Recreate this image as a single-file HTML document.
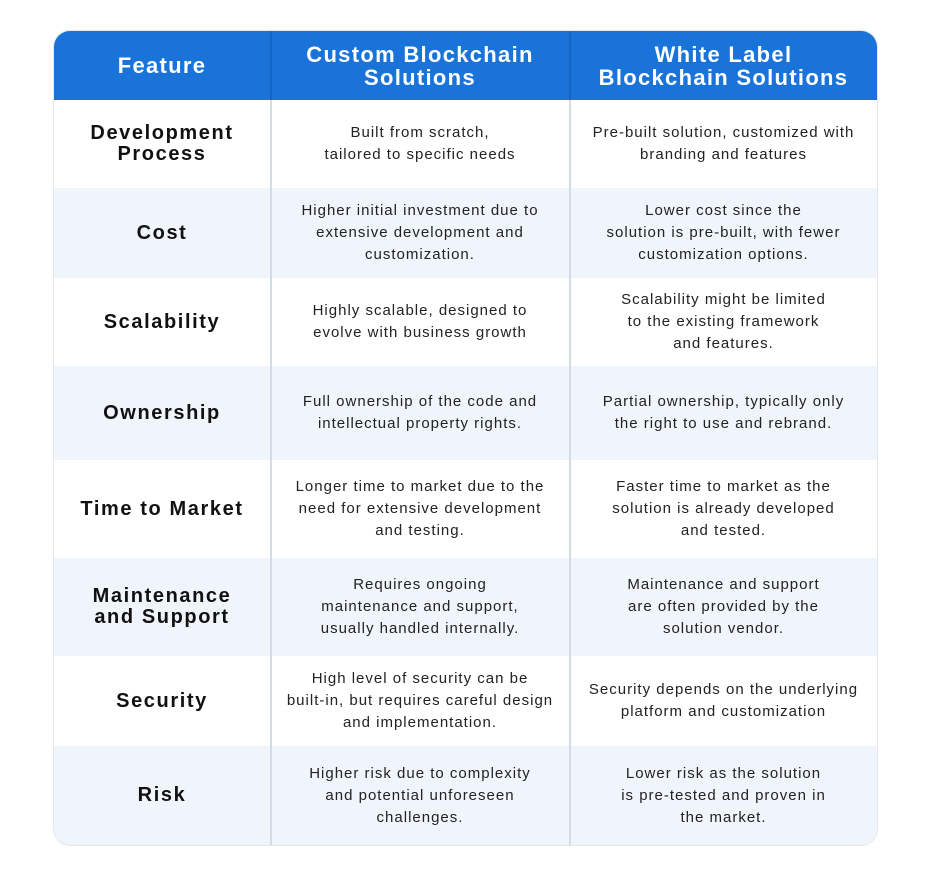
<!DOCTYPE html>
<html><head><style>
body{margin:0;width:931px;height:873px;background:#fff;font-family:"Liberation Sans",sans-serif;position:relative;overflow:hidden}
.t{position:absolute;left:54px;top:31px;width:823px;height:814px;border-radius:16px;overflow:hidden;box-shadow:0 0 0 1px #e3e8ef;background:#fff}
.r{position:absolute;left:0;width:823px}
.c{position:absolute;top:0;bottom:0;display:flex;align-items:center;justify-content:center;text-align:center}
.c1{left:0;width:216px;font-weight:bold;font-size:20px;letter-spacing:1.6px;color:#111;line-height:21px}
.c2{left:217px;width:298px;font-size:15px;letter-spacing:1px;color:#222;line-height:22px}
.c3{left:516px;width:307px;font-size:15px;letter-spacing:1px;color:#222;line-height:22px}
.h .c{color:#fff;font-weight:bold;font-size:22px;line-height:23px;letter-spacing:1.3px}
.v{position:absolute;top:0;bottom:0;width:2px;background:#d3dbe6}
</style></head><body>
<div class="t">
<div class="r h" style="top:0;height:69px;background:#1a73d9"><div class="c c1" style="font-size:22px">Feature</div><div class="c c2">Custom Blockchain<br>Solutions</div><div class="c c3">White Label<br>Blockchain Solutions</div></div>
<div class="r" style="top:69px;height:88px"><div class="c c1">Development<br>Process</div><div class="c c2">Built from scratch,<br>tailored to specific needs</div><div class="c c3">Pre-built solution, customized with<br>branding and features</div></div>
<div class="r" style="top:157px;height:90px;background:#f0f5fc"><div class="c c1">Cost</div><div class="c c2">Higher initial investment due to<br>extensive development and<br>customization.</div><div class="c c3">Lower cost since the<br>solution is pre-built, with fewer<br>customization options.</div></div>
<div class="r" style="top:247px;height:88px"><div class="c c1">Scalability</div><div class="c c2">Highly scalable, designed to<br>evolve with business growth</div><div class="c c3">Scalability might be limited<br>to the existing framework<br>and features.</div></div>
<div class="r" style="top:335px;height:94px;background:#f0f5fc"><div class="c c1">Ownership</div><div class="c c2">Full ownership of the code and<br>intellectual property rights.</div><div class="c c3">Partial ownership, typically only<br>the right to use and rebrand.</div></div>
<div class="r" style="top:429px;height:98px"><div class="c c1">Time to Market</div><div class="c c2">Longer time to market due to the<br>need for extensive development<br>and testing.</div><div class="c c3">Faster time to market as the<br>solution is already developed<br>and tested.</div></div>
<div class="r" style="top:527px;height:98px;background:#f0f5fc"><div class="c c1">Maintenance<br>and Support</div><div class="c c2">Requires ongoing<br>maintenance and support,<br>usually handled internally.</div><div class="c c3">Maintenance and support<br>are often provided by the<br>solution vendor.</div></div>
<div class="r" style="top:625px;height:90px"><div class="c c1">Security</div><div class="c c2">High level of security can be<br>built-in, but requires careful design<br>and implementation.</div><div class="c c3">Security depends on the underlying<br>platform and customization</div></div>
<div class="r" style="top:715px;height:99px;background:#f0f5fc"><div class="c c1">Risk</div><div class="c c2">Higher risk due to complexity<br>and potential unforeseen<br>challenges.</div><div class="c c3">Lower risk as the solution<br>is pre-tested and proven in<br>the market.</div></div>
<div class="v" style="left:216px;top:0;background:#1565c4;height:69px"></div>
<div class="v" style="left:515px;top:0;background:#1565c4;height:69px"></div>
<div class="v" style="left:216px;top:69px"></div>
<div class="v" style="left:515px;top:69px"></div>
</div>
</body></html>
